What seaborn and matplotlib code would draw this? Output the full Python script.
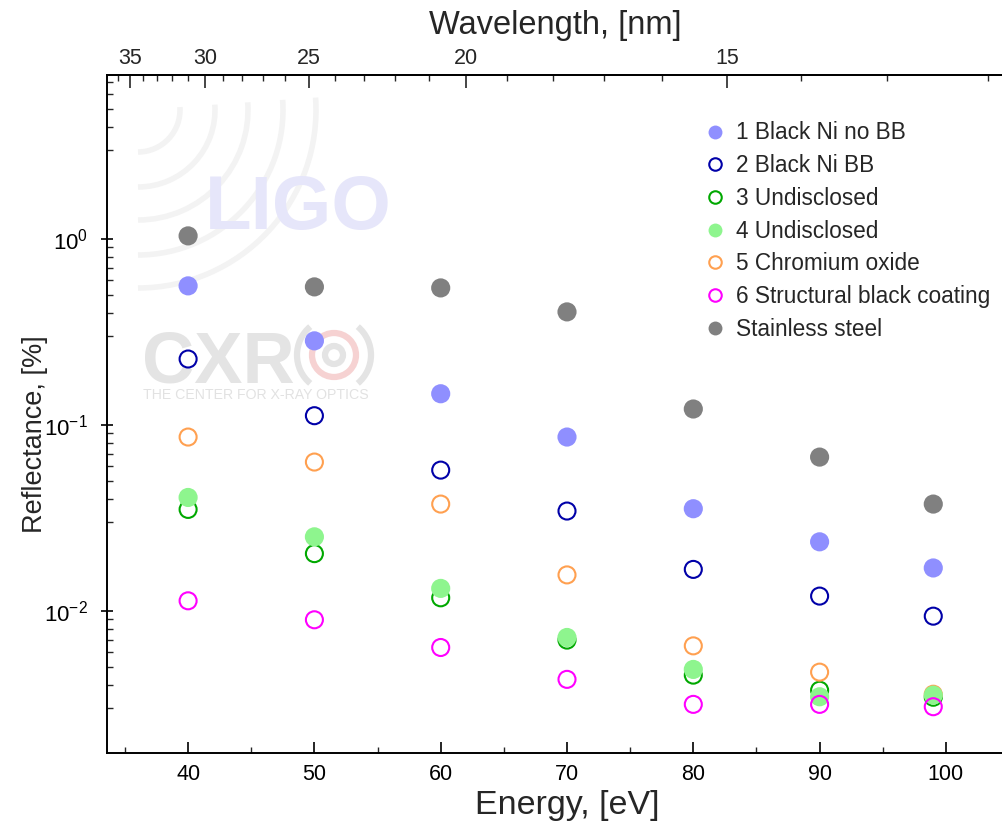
import numpy as np
import pandas as pd
import matplotlib
matplotlib.use("Agg")
import matplotlib.pyplot as plt
import seaborn as sns
from matplotlib.ticker import FixedLocator, LogLocator, NullFormatter, MultipleLocator
from matplotlib.patches import Arc, Circle

# ---------------- data ----------------
energy = [40, 50, 60, 70, 80, 90, 99]
black_ni_no_bb = [0.559, 0.283, 0.147, 0.086, 0.0354, 0.0235, 0.0170]
black_ni_bb = [0.226, 0.112, 0.0571, 0.0344, 0.0167, 0.0120, 0.00936]
undisclosed_3 = [0.0351, 0.0203, 0.01175, 0.00696, 0.00451, 0.00374, 0.00343]
undisclosed_4 = [0.0407, 0.0250, 0.0132, 0.00719, 0.00484, 0.00345, 0.00352]
chromium_oxide = [0.0860, 0.0631, 0.0375, 0.0156, 0.00648, 0.00468, 0.00356]
structural_black = [0.01132, 0.00895, 0.00635, 0.00428, 0.00314, 0.00314, 0.00305]
stainless_steel = [1.038, 0.552, 0.545, 0.405, 0.1217, 0.0671, 0.0375]

labels = ["1 Black Ni no BB", "2 Black Ni BB", "3 Undisclosed", "4 Undisclosed",
          "5 Chromium oxide", "6 Structural black coating", "Stainless steel"]
wl_major = [35, 30, 25, 20, 15]
wl_minor = [36, 34, 33, 32, 31, 29, 28, 27, 26, 24, 23, 22, 21, 19, 18, 17, 16, 14, 13, 12]
HC = 1239.84

# ---------------- style ----------------
sns.set_theme(style="ticks")
plt.rcParams["font.family"] = ["Liberation Sans", "DejaVu Sans"]
plt.rcParams["mathtext.fontset"] = "custom"
plt.rcParams["mathtext.rm"] = "Liberation Sans"
plt.rcParams["mathtext.it"] = "Liberation Sans:italic"
plt.rcParams["mathtext.bf"] = "Liberation Sans:bold"

H = 8.27
fig = plt.figure(figsize=(10.03, H), dpi=100)

# ---- watermarks (decoration, drawn behind the axes) ----
tr = fig.dpi_scale_trans
cx, cy = 1.38, H - 1.10
for r in [0.42, 0.77, 1.10, 1.45, 1.78]:
    fig.patches.append(Arc((cx, cy), 2 * r, 2 * r, theta1=-90, theta2=4,
                           transform=tr, color="#f3f3f3", lw=4, zorder=-2))
fig.text(2.05, H - 2.10, "LIGO", fontsize=55, fontweight="bold", transform=tr,
         color="#e6e6fa", ha="left", va="center", zorder=-1)
fig.text(1.42, H - 3.82, "CXR", fontsize=52, fontweight="bold", color="#e4e4e4",
         transform=tr, ha="left", va="baseline", zorder=-1)
ccx, ccy = 3.34, H - 3.55
fig.patches.append(Circle((ccx, ccy), 0.22, transform=tr, fill=False,
                          lw=4.5, color="#f6d2d2", zorder=-1))
fig.patches.append(Circle((ccx, ccy), 0.09, transform=tr, fill=False,
                          lw=4.5, color="#e4e4e4", zorder=-1))
for t1, t2 in [(-50, 50), (130, 230)]:
    fig.patches.append(Arc((ccx, ccy), 0.74, 0.74, theta1=t1, theta2=t2,
                           transform=tr, color="#e4e4e4", lw=4.5, zorder=-1))
fig.text(1.43, H - 3.95, "THE CENTER FOR X-RAY OPTICS", fontsize=10.2,
         color="#e2e2e2", transform=tr, ha="left", va="center", zorder=-1)

ax = fig.add_axes([0.1067, 0.0895, 0.8943, 0.8202])
ax.patch.set_alpha(0)

s_fill = 190
s_open = 150
lw_open = 1.5

series = [
    (black_ni_no_bb, "#8f8fff", True),
    (black_ni_bb, "#0000a8", False),
    (undisclosed_3, "#00a800", False),
    (chromium_oxide, "#ffa050", False),
    (undisclosed_4, "#8ef58e", True),
    (structural_black, "#ff00ff", False),
    (stainless_steel, "#808080", True),
]
label_map = {0: 0, 1: 1, 2: 2, 3: 4, 4: 3, 5: 5, 6: 6}

handles = {}
for i, (vals, col, filled) in enumerate(series):
    df = pd.DataFrame({"E": energy, "R": vals})
    if filled:
        sns.scatterplot(data=df, x="E", y="R", ax=ax, s=s_fill, marker="o",
                        color=col, edgecolor="none", linewidth=0, zorder=3)
        h = plt.Line2D([], [], marker="o", ls="none", ms=10, mfc=col, mec="none")
    else:
        sns.scatterplot(data=df, x="E", y="R", ax=ax, s=s_open, marker="o",
                        facecolor="none", edgecolor=col, linewidth=lw_open, zorder=3)
        h = plt.Line2D([], [], marker="o", ls="none", ms=9, mfc="none", mec=col, mew=1.5)
    handles[label_map[i]] = h

ax.set_yscale("log")
ax.set_xlim(33.58, 104.6)
ax.set_ylim(0.00172, 7.64)

ax.xaxis.set_major_locator(MultipleLocator(10))
ax.xaxis.set_minor_locator(MultipleLocator(5))
ax.yaxis.set_minor_locator(LogLocator(base=10, subs=(3, 4, 5, 6, 7, 8, 9)))
ax.yaxis.set_minor_formatter(NullFormatter())

ax.tick_params(axis="x", which="major", direction="in", length=8, width=1.2,
               labelsize=15.5, pad=8, colors="black")
ax.tick_params(axis="x", which="minor", direction="in", length=4, width=1.0)
ax.tick_params(axis="y", which="major", direction="inout", length=8, width=1.2,
               labelsize=16, pad=10, colors="black")
ax.tick_params(axis="y", which="minor", direction="in", length=4.5, width=1.0)

for sp in ["left", "bottom", "top"]:
    ax.spines[sp].set_linewidth(1.4)
    ax.spines[sp].set_color("black")
ax.spines["right"].set_visible(False)

ax.set_xlabel("Energy, [eV]", fontsize=24.5)
ax.xaxis.set_label_coords(0.513, -0.055)
ax.set_ylabel("Reflectance, [%]", fontsize=19.5)
ax.yaxis.set_label_coords(-0.066, 0.47)

sec = ax.secondary_xaxis("top", functions=(lambda e: HC / np.asarray(e, dtype=float),
                                           lambda w: HC / np.asarray(w, dtype=float)))
sec.xaxis.set_major_locator(FixedLocator(wl_major))
sec.xaxis.set_minor_locator(FixedLocator(wl_minor))
sec.tick_params(axis="x", which="major", direction="in", length=9, width=1.2,
                labelsize=15.5, pad=4)
sec.tick_params(axis="x", which="minor", direction="in", length=4.5, width=1.0)
sec.spines["top"].set_linewidth(1.4)
sec.set_xlabel("Wavelength, [nm]", fontsize=23.5, labelpad=10)

leg = ax.legend([handles[k] for k in range(7)], labels, loc="upper left",
                bbox_to_anchor=(0.668, 0.931), frameon=False, fontsize=16.3,
                handlelength=0.8, handletextpad=0.5, labelspacing=0.43,
                borderpad=0, borderaxespad=0)

fig.savefig("out.png", dpi=100)
